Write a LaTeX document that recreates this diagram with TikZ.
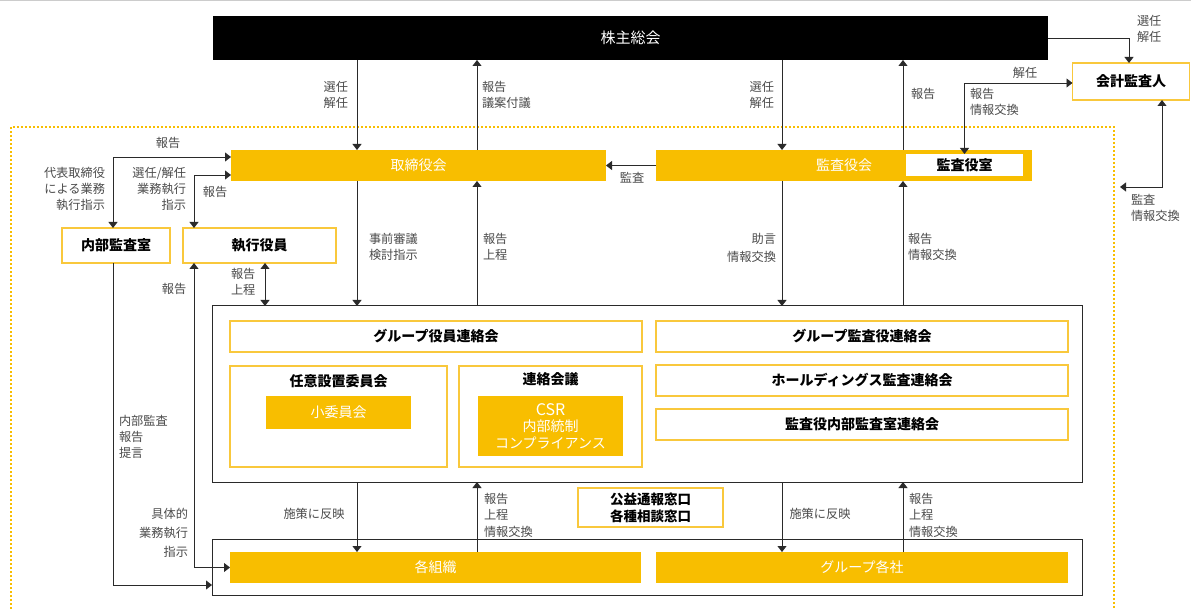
\documentclass[tikz,border=0pt]{standalone}
\usepackage{fontspec}
\setmainfont{Noto Sans CJK JP}
\usetikzlibrary{arrows.meta}
\definecolor{org}{HTML}{F8BE00}
\definecolor{orgline}{HTML}{F9C83C}
\definecolor{lbl}{HTML}{4A4A4A}
\definecolor{ln}{HTML}{2A2A2A}
\begin{document}
\begin{tikzpicture}[x=1pt,y=-1pt,
  every node/.style={inner sep=0pt,outer sep=0pt},
  blackbox/.style={fill=black,text=white,font=\fontsize{15}{17}\selectfont},
  fillbox/.style={fill=org,text=white,font=\fontsize{14}{16.5}\selectfont,align=center},
  linebox/.style={draw=orgline,line width=1.5pt,fill=white,text=black,font=\fontsize{14}{17}\selectfont\bfseries,align=center},
  framebox/.style={draw=ln,line width=1pt},
  boxtitle/.style={text=black,font=\fontsize{14}{17}\selectfont\bfseries},
  lab/.style={text=lbl,font=\fontsize{12.2}{16}\selectfont,align=left},
  labr/.style={text=lbl,font=\fontsize{12.2}{16}\selectfont,align=right},
  arr/.style={draw=ln,line width=0.9pt,-{Triangle[width=9pt,length=6pt]}},
  arrb/.style={draw=ln,line width=0.9pt,{Triangle[width=9pt,length=6pt]}-{Triangle[width=9pt,length=6pt]}},
  bound/.style={draw=org,line width=2pt,dash pattern=on 2pt off 2pt}
]
\useasboundingbox (0,0) rectangle (1191,609);
\draw[black!20,line width=1pt] (0,0.5) -- (1191,0.5);
% dotted boundary
\draw[bound] (11,609) -- (11,127) -- (1114,127) -- (1114,609);

% nodes
\node[blackbox,minimum width=835,minimum height=44] (sh) at (630.5,38) {株主総会};
\node[linebox,minimum width=117,minimum height=37] (kaikei) at (1131,81.5) {会計監査人};
\node[fillbox,minimum width=375,minimum height=31] (tori) at (418.5,165.5) {取締役会};
\node[fillbox,minimum width=376,minimum height=31] (kansa) at (844,165.5) {監査役会};
\node[fill=white,text=black,font=\fontsize{14}{17}\selectfont\bfseries,minimum width=117,minimum height=22] (kshitsu) at (964.5,165) {監査役室};
\node[linebox,minimum width=108,minimum height=35] (naibu) at (116,245.5) {内部監査室};
\node[linebox,minimum width=153,minimum height=35] (shikko) at (259.5,245.5) {執行役員};

\node[framebox,minimum width=870,minimum height=176] (big) at (647,394) {};
\node[linebox,minimum width=412,minimum height=31] (g1) at (436,336.5) {グループ役員連絡会};
\node[linebox,minimum width=217,minimum height=101] (nini) at (338.5,416.5) {};
\node[boxtitle] (tnini) at (338.5,381) {任意設置委員会};
\node[fillbox,minimum width=145,minimum height=33] (sho) at (338.5,412.5) {小委員会};
\node[linebox,minimum width=183,minimum height=101] (renraku) at (550.5,416.5) {};
\node[boxtitle] (trenraku) at (550.5,379) {連絡会議};
\node[fillbox,minimum width=145,minimum height=60] (csr) at (550.5,426) {{\fontsize{16}{16.5}\selectfont CSR}\\内部統制\\コンプライアンス};
\node[linebox,minimum width=412,minimum height=31] (g2) at (862,336.5) {グループ監査役連絡会};
\node[linebox,minimum width=412,minimum height=31] (g3) at (862,380.5) {ホールディングス監査連絡会};
\node[linebox,minimum width=412,minimum height=31] (g4) at (862,424.5) {監査役内部監査室連絡会};

\node[linebox,font=\fontsize{13.5}{17}\selectfont\bfseries,minimum width=145,minimum height=39] (koeki) at (650.5,507.5) {公益通報窓口\\各種相談窓口};

\node[framebox,minimum width=870,minimum height=56] (bottom) at (647,567) {};
\node[fillbox,minimum width=411,minimum height=31] (kaku) at (435.5,567.5) {各組織};
\node[fillbox,minimum width=412,minimum height=31] (gk) at (862,567.5) {グループ各社};

% helper coordinates
\coordinate (xA) at (357,0);
\coordinate (xB) at (477,0);
\coordinate (xC) at (782,0);
\coordinate (xD) at (903,0);
\coordinate (p113) at (113,157);
\coordinate (p194) at (194,175);
\coordinate (p265) at (265,0);
\coordinate (p585) at (113,585);
\coordinate (p1129) at (1129,38);
\coordinate (p83) at (965,83);
\coordinate (p1162) at (1162,187);
\coordinate (bnd) at (1120,187);

% vertical connectors
\draw[arr] (sh.south -| xA) -- (tori.north -| xA);
\draw[arr] (tori.north -| xB) -- (sh.south -| xB);
\draw[arr] (sh.south -| xC) -- (kansa.north -| xC);
\draw[arr] (kansa.north -| xD) -- (sh.south -| xD);
\draw[arr] (tori.south -| xA) -- (big.north -| xA);
\draw[arr] (big.north -| xB) -- (tori.south -| xB);
\draw[arr] (kansa.south -| xC) -- (big.north -| xC);
\draw[arr] (big.north -| xD) -- (kansa.south -| xD);
\draw[arr] (big.south -| xA) -- (kaku.north -| xA);
\draw[arr] (kaku.north -| xB) -- (big.south -| xB);
\draw[arr] (big.south -| xC) -- (gk.north -| xC);
\draw[arr] (gk.north -| xD) -- (big.south -| xD);
\draw[arr] (kansa.west) -- (tori.east);
% right side
\draw[arr] (sh.east |- p1129) -| (kaikei.north -| p1129);
\draw[arrb] (kshitsu.north) |- (kaikei.west |- p83);
\draw[arrb] (kaikei.south -| p1162) |- (bnd);
% left side
\draw[arrb] (naibu.north -| p113) |- (tori.west |- p113);
\draw[arrb] (shikko.north -| p194) |- (tori.west |- p194);
\draw[arrb] (shikko.south -| p265) -- (big.north -| p265);
\draw[arrb] (shikko.south -| p194) |- (kaku.west);
\draw[arr] (naibu.south -| p585) |- (bottom.west |- p585);

% labels
\node[labr,anchor=east] (l1) at (348,95) {選任\\解任};
\node[lab,anchor=west] (l2) at (482,95) {報告\\議案付議};
\node[labr,anchor=east] (l3) at (774,95) {選任\\解任};
\node[lab,anchor=west] (l4) at (911,94) {報告};
\node[lab] (l5) at (1025,73) {解任};
\node[lab,anchor=west] (l6) at (970,101.5) {報告\\情報交換};
\node[lab,anchor=west] (l7) at (1137,29) {選任\\解任};
\node[lab,anchor=west] (l8) at (1131,208) {監査\\情報交換};
\node[lab] (l9) at (632,178) {監査};
\node[lab,anchor=west] (l10) at (369,247) {事前審議\\検討指示};
\node[lab,anchor=west] (l11) at (483,247) {報告\\上程};
\node[labr,anchor=east,font=\fontsize{12.2}{18}\selectfont] (l12) at (776,248) {助言\\情報交換};
\node[lab,anchor=west] (l13) at (908,247) {報告\\情報交換};
\node[lab] (l14) at (168,143) {報告};
\node[labr,anchor=east] (l15) at (105,189) {代表取締役\\による業務\\執行指示};
\node[labr,anchor=east] (l16) at (186,189) {選任/解任\\業務執行\\指示};
\node[lab] (l17) at (215,192) {報告};
\node[lab,anchor=west] (l18) at (231,282) {報告\\上程};
\node[lab] (l19) at (174,289) {報告};
\node[lab,anchor=west] (l20) at (119,437) {内部監査\\報告\\提言};
\node[labr,anchor=east,font=\fontsize{12.2}{19}\selectfont] (l21) at (188,533) {具体的\\業務執行\\指示};
\node[lab] (l22) at (314,514) {施策に反映};
\node[lab,anchor=west,font=\fontsize{12.2}{16.5}\selectfont] (l23) at (484,515) {報告\\上程\\情報交換};
\node[lab] (l24) at (820,514) {施策に反映};
\node[lab,anchor=west,font=\fontsize{12.2}{16.5}\selectfont] (l25) at (909,515) {報告\\上程\\情報交換};
\end{tikzpicture}
\end{document}
